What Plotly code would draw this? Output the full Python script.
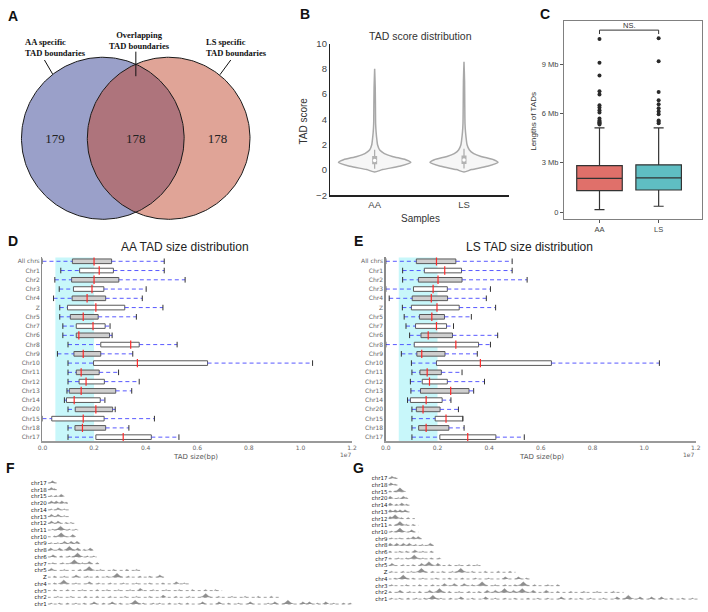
import numpy as np
import plotly.graph_objects as go

W, H = 708, 612

# ---------------- data ----------------
venn_counts = [179, 178, 178]          # AA-only, overlap, LS-only
venn_labels = ["AA specific<br>TAD boundaries", "Overlapping<br>TAD boundaries",
               "LS specific<br>TAD boundaries"]

violin_samples = ["AA", "LS"]
violin_levels_aa = [-0.16, 0.03, 0.29, 0.6, 0.81, 1.07, 1.3, 1.58, 2.0, 2.35, 3.0, 3.65, 5.0, 6.5, 8.0]
violin_width_aa = [0, .22, .68, 1, .86, .49, .27, .14, .08, .063, .04, .027, .022, .016, 0]
violin_levels_ls = [-0.16, 0.03, 0.29, 0.6, 0.81, 1.07, 1.3, 1.58, 2.0, 2.35, 3.0, 3.65, 5.0, 7.0, 8.57]
violin_width_ls = [0, .21, .64, .94, .82, .47, .27, .15, .085, .066, .042, .028, .022, .016, 0]
violin_q1 = [0.45, 0.47]
violin_median = [0.75, 0.78]
violin_q3 = [1.1, 1.14]
violin_low = [0.1, 0.12]
violin_high = [1.6, 1.68]

c_groups = ["AA", "LS"]
c_q1 = [1.31, 1.35]
c_median = [2.05, 2.09]
c_q3 = [2.83, 2.88]
c_low = [0.16, 0.36]
c_high = [5.13, 5.13]
c_out_aa = [5.33, 5.4, 5.45, 5.5, 5.57, 5.7, 6.06, 6.2, 6.36, 6.5, 7.16, 7.35, 8.31, 9.08, 10.53]
c_out_ls = [5.41, 5.5, 5.57, 5.96, 6.12, 6.32, 6.56, 6.8, 7.31, 9.18, 10.57]

chrom_labels = ["All chrs", "Chr1", "Chr2", "Chr3", "Chr4", "Z", "Chr5", "Chr7", "Chr6", "Chr8",
                "Chr9", "Chr10", "Chr11", "Chr12", "Chr13", "Chr14", "Chr20", "Chr15", "Chr18", "Chr17"]
# TAD sizes in units of 1e7 bp
d_wlo = [0.0, 0.071, 0.048, 0.065, 0.043, 0.067, 0.067, 0.079, 0.079, 0.099, 0.058, 0.099, 0.099, 0.099, 0.095, 0.085, 0.099, 0.0, 0.099, 0.099]
d_q1 = [0.116, 0.144, 0.113, 0.120, 0.115, 0.097, 0.108, 0.131, 0.131, 0.226, 0.122, 0.198, 0.131, 0.142, 0.104, 0.093, 0.127, 0.036, 0.126, 0.207]
d_med = [0.200, 0.220, 0.200, 0.192, 0.173, 0.207, 0.158, 0.196, 0.141, 0.342, 0.158, 0.368, 0.150, 0.169, 0.150, 0.123, 0.207, 0.158, 0.155, 0.313]
d_q3 = [0.268, 0.275, 0.296, 0.238, 0.245, 0.319, 0.216, 0.243, 0.260, 0.375, 0.226, 0.640, 0.220, 0.240, 0.284, 0.224, 0.272, 0.239, 0.245, 0.422]
d_whi = [0.472, 0.472, 0.553, 0.402, 0.387, 0.467, 0.364, 0.262, 0.270, 0.522, 0.350, 1.047, 0.295, 0.375, 0.346, 0.242, 0.282, 0.434, 0.335, 0.529]

e_wlo = [0.0, 0.065, 0.065, 0.0, 0.013, 0.064, 0.071, 0.078, 0.092, 0.0, 0.060, 0.099, 0.101, 0.095, 0.097, 0.084, 0.101, 0.101, 0.101, 0.101]
e_q1 = [0.118, 0.149, 0.126, 0.107, 0.102, 0.099, 0.130, 0.115, 0.136, 0.110, 0.120, 0.196, 0.132, 0.141, 0.134, 0.095, 0.118, 0.191, 0.127, 0.209]
e_med = [0.196, 0.228, 0.202, 0.183, 0.176, 0.198, 0.178, 0.196, 0.164, 0.271, 0.139, 0.366, 0.160, 0.169, 0.251, 0.156, 0.144, 0.233, 0.156, 0.317]
e_q3 = [0.271, 0.293, 0.295, 0.238, 0.239, 0.284, 0.227, 0.235, 0.258, 0.359, 0.229, 0.641, 0.215, 0.238, 0.322, 0.218, 0.210, 0.298, 0.244, 0.426]
e_whi = [0.489, 0.489, 0.547, 0.405, 0.389, 0.425, 0.331, 0.262, 0.433, 0.405, 0.354, 1.059, 0.295, 0.382, 0.340, 0.252, 0.281, 0.298, 0.303, 0.536]
size_ticks = [0.0, 0.2, 0.4, 0.6, 0.8, 1.0, 1.2]

karyo_chroms = ["chr17", "chr18", "chr15", "chr20", "chr14", "chr13", "chr12", "chr11", "chr10", "chr9",
                "chr8", "chr6", "chr7", "chr5", "Z", "chr4", "chr3", "chr2", "chr1"]
# chromosome lengths (Mb) and boundary-peak positions (Mb) / peak level (1 small, 2 medium, 3 large)
f_lengths = [6.6, 5.9, 10.8, 13.0, 14.0, 14.0, 17.2, 19.7, 18.3, 20.4, 29.5, 31.6, 34.6, 59.7, 75.2, 91.1, 112.7, 150.5, 197.7]
f_peak_mb = [
    [3.0], [2.3, 4.5], [2.3, 5.5, 8.7], [2.3, 5.5, 9.1, 11.9], [2.3, 6.6, 10.8], [2.3, 6.6, 10.8],
    [2.3, 6.6, 11.9, 15.1], [3.4, 8.3, 14.0, 18.3], [4.5, 8.7, 16.1], [2.3, 6.6, 10.8, 15.1, 18.9],
    [1.9, 7.6, 14.0, 19.3, 23.6, 27.4], [3.4, 8.7, 14.0, 19.3, 25.7, 29.9], [3.4, 9.8, 17.2, 22.5, 26.8, 32.1],
    [2.3, 10.8, 21.0, 26.8, 34.2, 42.7, 51.2, 57.5],
    [4.5, 10.8, 18.3, 25.7, 32.1, 38.4, 44.8, 52.2, 59.7, 66.0, 72.4],
    [4.5, 10.4, 18.3, 26.8, 33.1, 40.6, 49.0, 57.5, 66.0, 74.5, 83.0, 88.3],
    [4.5, 13.0, 22.5, 32.1, 38.4, 45.9, 53.3, 59.7, 68.2, 76.6, 85.1, 93.6, 102.1, 108.5],
    [6.6, 15.1, 24.6, 32.1, 40.6, 50.1, 57.5, 66.0, 74.5, 83.0, 91.5, 102.1, 110.6, 119.1, 127.6, 136.1, 144.6],
    [2.3, 7.6, 13.0, 18.3, 23.6, 29.9, 36.3, 41.6, 46.9, 56.5, 61.8, 68.2, 72.4, 78.8, 85.1, 90.4, 100.0,
     110.6, 117.0, 123.4, 130.8, 142.5, 146.7, 155.2, 164.8, 169.0, 174.3, 179.6, 184.9, 191.3, 195.5],
]
f_peak_level = [
    [2], [2, 1], [1, 1, 2], [2, 2, 2, 1], [1, 2, 1], [2, 2, 1], [2, 2, 1, 1], [1, 3, 1, 1], [1, 3, 2],
    [1, 1, 2, 2, 2], [2, 2, 3, 2, 1, 2], [2, 1, 1, 3, 1, 1], [1, 1, 3, 1, 2, 1], [2, 1, 1, 3, 1, 1, 1, 1],
    [1, 1, 2, 1, 1, 1, 3, 1, 1, 1, 2], [1, 3, 1, 2, 1, 1, 1, 1, 1, 1, 2, 1],
    [1, 1, 1, 1, 1, 1, 1, 2, 1, 1, 1, 1, 1, 1], [1, 1, 1, 1, 1, 1, 1, 1, 2, 1, 1, 3, 1, 1, 1, 1, 1],
    [1, 1, 1, 1, 1, 2, 1, 2, 1, 3, 1, 1, 1, 1, 1, 1, 2, 2, 1, 1, 2, 1, 2, 3, 2, 2, 1, 2, 1, 1, 1],
]
g_lengths = [6.7, 5.9, 10.5, 12.2, 13.6, 14.0, 16.8, 19.3, 19.3, 21.6, 28.9, 30.4, 34.2, 58.7, 81.0, 90.0, 110.5, 150.0, 198.0]
g_peak_mb = [
    [2.1, 4.2], [1.5, 4.2], [1.0, 4.2, 7.3], [1.0, 6.3, 9.4, 11.5], [1.0, 5.2, 8.4, 11.5], [1.0, 4.2, 7.3, 10.5],
    [1.0, 4.2, 8.4, 12.6], [1.0, 5.2, 7.3, 11.5, 15.7], [2.1, 7.3, 14.7], [2.1, 7.3, 12.6, 15.7, 18.9],
    [1.0, 5.2, 9.4, 13.2, 17.4, 21.6, 26.6], [1.0, 7.3, 11.5, 16.8, 22.0, 27.3],
    [1.0, 6.3, 11.5, 16.4, 22.0, 27.3, 32.5], [2.1, 9.4, 15.7, 21.0, 25.8, 31.4, 38.8, 45.1, 51.4, 56.6],
    [2.1, 9.4, 14.7, 21.0, 28.3, 34.6, 40.9, 46.1, 53.5, 61.8, 70.2, 77.6],
    [4.2, 9.4, 15.7, 22.0, 30.4, 38.8, 47.2, 55.6, 63.9, 74.4, 82.8, 88.1],
    [2.1, 11.5, 19.9, 28.3, 35.6, 41.9, 48.2, 53.5, 59.7, 68.1, 74.4, 80.7, 86.0, 93.3, 101.7, 108.0],
    [1.0, 7.3, 13.6, 19.9, 26.2, 32.5, 38.8, 45.1, 51.4, 57.7, 62.9, 68.1, 74.0, 79.7, 85.3, 92.2, 100.6,
     108.0, 116.4, 124.7, 133.1, 143.6],
    [2.1, 7.3, 12.6, 17.8, 23.1, 28.3, 33.5, 39.8, 46.1, 53.5, 61.8, 68.2, 74.4, 80.7, 89.1, 95.4, 101.7,
     110.1, 116.4, 122.6, 128.9, 137.3, 145.7, 153.0, 160.4, 167.7, 174.0, 180.3, 187.7, 194.0],
]
g_peak_level = [
    [2, 1], [2, 1], [1, 1, 3], [2, 1, 2, 1], [2, 1, 2, 1], [2, 2, 2, 2], [2, 3, 1, 1], [1, 1, 3, 1, 1], [1, 3, 2],
    [1, 1, 1, 2, 2], [2, 2, 2, 2, 1, 1, 2], [1, 1, 1, 2, 1, 1], [1, 1, 1, 3, 1, 1, 1],
    [2, 1, 1, 2, 3, 2, 1, 1, 1, 1], [1, 1, 1, 3, 1, 1, 1, 3, 1, 1, 1, 1], [1, 3, 1, 1, 1, 1, 1, 1, 1, 2, 2, 1],
    [1, 1, 1, 1, 2, 2, 2, 1, 3, 1, 1, 1, 3, 1, 1, 1],
    [1, 2, 1, 1, 2, 3, 1, 1, 1, 1, 2, 2, 3, 2, 3, 2, 2, 1, 1, 1, 1, 1],
    [1, 1, 1, 1, 1, 3, 1, 1, 2, 1, 2, 1, 1, 1, 1, 1, 1, 2, 1, 1, 1, 1, 2, 3, 2, 2, 2, 1, 1, 1],
]


# ---------------- helpers ----------------
def dx(a, b):
    return [a / W, b / W]


def dy(top, bottom):
    return [1 - bottom / H, 1 - top / H]


SANS = "Liberation Sans, Arial, sans-serif"
SERIF = "Liberation Serif, Times New Roman, serif"
DJ = "DejaVu Sans, sans-serif"

fig = go.Figure()
annotations = []
shapes = []


def note(text, x, y, size, family=SANS, color="#222", xanchor="center", yanchor="middle",
         angle=0, xref="paper", yref="paper", align="center"):
    if xref == "paper":
        x = x / W
    if yref == "paper":
        y = 1 - y / H
    annotations.append(dict(text=text, x=x, y=y, xref=xref, yref=yref, showarrow=False,
                            font=dict(size=size, family=family, color=color),
                            xanchor=xanchor, yanchor=yanchor, textangle=angle, align=align))


# ---------------- Panel A: Venn ----------------
R = 82.5
cl = (99.2, 134.7)
cr = (166.0, 134.7)
t = np.linspace(0, 2 * np.pi, 241)
xi = (cl[0] + cr[0]) / 2
half = np.arccos((xi - cl[0]) / R)
a1 = np.linspace(-half, half, 90)
a2 = np.linspace(np.pi - half, np.pi + half, 90)
lens_x = np.concatenate([cl[0] + R * np.cos(a1), cr[0] + R * np.cos(a2)])
lens_y = np.concatenate([cl[1] + R * np.sin(a1), cr[1] + R * np.sin(a2)])
for (cx, cy), col in [(cl, "#9aa0c9"), (cr, "#e0a497")]:
    fig.add_trace(go.Scatter(x=cx + R * np.cos(t), y=cy + R * np.sin(t), fill="toself", fillcolor=col,
                             mode="lines", line=dict(width=0), xaxis="x", yaxis="y", hoverinfo="skip"))
fig.add_trace(go.Scatter(x=lens_x, y=lens_y, fill="toself", fillcolor="#ae747c", mode="lines",
                         line=dict(width=0), xaxis="x", yaxis="y", hoverinfo="skip"))
for (cx, cy) in [cl, cr]:
    fig.add_trace(go.Scatter(x=cx + R * np.cos(t), y=cy + R * np.sin(t), mode="lines",
                             line=dict(color="#1a1a1a", width=1), xaxis="x", yaxis="y", hoverinfo="skip"))
fig.add_trace(go.Scatter(x=[50.7, 132.7, 215.5], y=[136, 136, 136], mode="text",
                         text=[str(v) for v in venn_counts],
                         textfont=dict(family=SERIF, size=13, color="#222"), xaxis="x", yaxis="y"))
for (x0, y0, x1, y1) in [(40, 55, 48.3, 69.3), (132.7, 46.5, 132.7, 71.5), (229, 55, 218, 70)]:
    shapes.append(dict(type="line", x0=x0, y0=y0, x1=x1, y1=y1, xref="x", yref="y",
                       line=dict(color="#111", width=1)))
note("<b>" + venn_labels[0] + "</b>", 18, 42, 8.5, SERIF, "#111", xanchor="left", align="left")
note("<b>" + venn_labels[1] + "</b>", 136, 35, 8.5, SERIF, "#111")
note("<b>" + venn_labels[2] + "</b>", 202, 42, 8.5, SERIF, "#111", xanchor="left", align="left")

# ---------------- Panel B: violins ----------------
VMAX = 0.405
for i, (lev, wid) in enumerate([(violin_levels_aa, violin_width_aa), (violin_levels_ls, violin_width_ls)]):
    w = np.array(wid) * VMAX
    vx = np.concatenate([i + w, (i - w)[::-1]])
    vy = np.concatenate([lev, lev[::-1]])
    fig.add_trace(go.Scatter(x=vx, y=vy, fill="toself", fillcolor="#f6f6f6", mode="lines",
                             line=dict(color="#a8a8a8", width=1.5, shape="spline", smoothing=0.7),
                             xaxis="x2", yaxis="y2", hoverinfo="skip"))
    fig.add_trace(go.Scatter(x=[i, i], y=[violin_low[i], violin_high[i]], mode="lines",
                             line=dict(color="#aaaaaa", width=1.2), xaxis="x2", yaxis="y2"))
    fig.add_trace(go.Scatter(x=[i, i], y=[violin_q1[i], violin_q3[i]], mode="lines",
                             line=dict(color="#b2b2b2", width=5), xaxis="x2", yaxis="y2"))
    fig.add_trace(go.Scatter(x=[i], y=[violin_median[i]], mode="markers",
                             marker=dict(color="white", size=3.5), xaxis="x2", yaxis="y2"))
note("TAD score distribution", 421, 31, 10.5, SANS, "#333")
note("Samples", 421, 216, 10, SANS, "#333")
note("TAD score", 303, 117, 10, SANS, "#333", angle=-90)

# ---------------- Panel C: boxplot ----------------
c_cols = ["#e0706a", "#5fbec3"]
c_outs = [c_out_aa, c_out_ls]
for i in range(2):
    fig.add_trace(go.Box(x=[i], q1=[c_q1[i]], median=[c_median[i]], q3=[c_q3[i]],
                         lowerfence=[c_low[i]], upperfence=[c_high[i]], width=0.77, whiskerwidth=0.22,
                         fillcolor=c_cols[i], line=dict(color="#333", width=1.2), boxpoints=False,
                         xaxis="x3", yaxis="y3", name=c_groups[i]))
    fig.add_trace(go.Scatter(x=[i] * len(c_outs[i]), y=c_outs[i], mode="markers",
                             marker=dict(color="#2a2a2a", size=4), xaxis="x3", yaxis="y3"))
fig.add_trace(go.Scatter(x=[0, 0, 1, 1], y=[10.83, 11.07, 11.07, 10.83], mode="lines",
                         line=dict(color="#333", width=1), xaxis="x3", yaxis="y3"))
note("NS.", 0.5, 11.38, 7.5, SANS, "#333", xref="x3", yref="y3")
note("Lengths of TADs", 536.5, 117, 8, SANS, "#333", angle=-90)


# ---------------- Panels D/E: TAD size distributions ----------------
def size_panel(xa, ya, wlo, q1, med, q3, whi):
    idx = list(range(len(chrom_labels)))
    fills = ["#cfcfcf" if i % 2 == 0 else "#ffffff" for i in idx]
    fig.add_trace(go.Bar(orientation="h", y=idx, x=[b - a for a, b in zip(q1, q3)], base=q1, width=0.5,
                         marker=dict(color=fills, line=dict(color="#5a5a5a", width=1)),
                         xaxis=xa, yaxis=ya))
    wx, wy = [], []
    for i in idx:
        wx += [wlo[i], q1[i], None, q3[i], whi[i], None]
        wy += [i, i, None, i, i, None]
    fig.add_trace(go.Scatter(x=wx, y=wy, mode="lines",
                             line=dict(color="rgba(60,60,255,0.85)", width=1, dash="4px,3px"),
                             xaxis=xa, yaxis=ya))
    fig.add_trace(go.Scatter(x=list(wlo) + list(whi), y=idx + idx, mode="markers",
                             marker=dict(symbol="line-ns-open", size=4, color="#333",
                                         line=dict(color="#333", width=1)),
                             xaxis=xa, yaxis=ya))
    fig.add_trace(go.Scatter(x=med, y=idx, mode="markers",
                             marker=dict(symbol="line-ns-open", size=6, color="#ff2a2a",
                                         line=dict(color="#ff2a2a", width=1.2)),
                             xaxis=xa, yaxis=ya))
    shapes.append(dict(type="rect", xref=xa, yref=ya + " domain", x0=0.05, x1=0.2, y0=0, y1=1,
                       fillcolor="#c8f7fa", line=dict(width=0), layer="below"))


size_panel("x4", "y4", d_wlo, d_q1, d_med, d_q3, d_whi)
size_panel("x5", "y5", e_wlo, e_q1, e_med, e_q3, e_whi)
note("AA TAD size distribution", 182.5, 245, 12, SANS, "#222")
note("LS TAD size distribution", 532, 245, 12, SANS, "#222")
note("TAD size(bp)", 193, 459, 7, DJ, "#555")
note("TAD size(bp)", 544, 459, 7, DJ, "#555")
note("1e7", 346, 457, 6, DJ, "#666")
note("1e7", 694, 457, 6, DJ, "#666")

# ---------------- Panels F/G: boundary profiles ----------------
PEAK_H = {1: 0.16, 2: 0.33, 3: 0.58}
PEAK_W = {1: 1.2, 2: 2.2, 3: 3.9}


def karyo_panel(xa, ya, lengths, peaks, levels):
    bx, by, px_, py_ = [], [], [], []
    for i, (L, ps, ls) in enumerate(zip(lengths, peaks, levels)):
        base = -i
        bx += [0, L, None]
        by += [base, base, None]
        for p, lv in zip(ps, ls):
            w, h = PEAK_W[lv], PEAK_H[lv]
            px_ += [p - w, p - 0.5 * w, p, p + 0.5 * w, p + w, None]
            py_ += [base, base + 0.3 * h, base + h, base + 0.3 * h, base, None]
    fig.add_trace(go.Scatter(x=bx, y=by, mode="lines", line=dict(color="#a0a0a0", width=1, dash="dot"),
                             xaxis=xa, yaxis=ya))
    fig.add_trace(go.Scatter(x=px_, y=py_, mode="lines", fill="toself", fillcolor="#8e8e8e",
                             line=dict(width=0.3, color="#8e8e8e"), xaxis=xa, yaxis=ya))


karyo_panel("x6", "y6", f_lengths, f_peak_mb, f_peak_level)
karyo_panel("x7", "y7", g_lengths, g_peak_mb, g_peak_level)

# panel letters
for letter, x, y in [("A", 8, 10), ("B", 304, 8), ("C", 548, 8), ("D", 8, 239), ("E", 359, 239),
                     ("F", 6, 470), ("G", 359, 470)]:
    note("<b>" + letter + "</b>", x, y, 14, SANS, "#111")

# ---------------- axes ----------------
blank = dict(visible=False, showgrid=False, zeroline=False, fixedrange=True)
layout_axes = dict(
    xaxis=dict(blank, domain=dx(0, 300), range=[0, 300], anchor="y"),
    yaxis=dict(blank, domain=dy(0, 220), range=[220, 0], anchor="x"),
    xaxis2=dict(domain=dx(330, 511.7), range=[-0.496, 1.509], anchor="y2", tickvals=[0, 1],
                ticktext=violin_samples, showline=True, linecolor="#222", linewidth=1.5, ticks="",
                showgrid=False, zeroline=False, tickfont=dict(size=9.5, family=SANS, color="#444")),
    yaxis2=dict(domain=dy(38.3, 192.7), range=[-2, 10], anchor="x2", tickvals=[-2, 0, 2, 4, 6, 8, 10],
                showline=True, linecolor="#222", linewidth=1.5, ticks="", showgrid=False, zeroline=False,
                tickfont=dict(size=9.5, family=SANS, color="#444")),
    xaxis3=dict(domain=dx(567, 707), range=[-0.6, 1.733], anchor="y3", tickvals=[0, 1], ticktext=c_groups,
                showline=True, mirror=True, linecolor="#808080", linewidth=1, ticks="outside", ticklen=3,
                tickcolor="#555", showgrid=False, zeroline=False,
                tickfont=dict(size=7.5, family=SANS, color="#444")),
    yaxis3=dict(domain=dy(15, 217), range=[-0.42, 11.64], anchor="x3", tickvals=[0, 3, 6, 9],
                ticktext=["0", "3 Mb", "6 Mb", "9 Mb"], showline=True, mirror=True, linecolor="#808080",
                linewidth=1, ticks="outside", ticklen=3, tickcolor="#555", showgrid=False, zeroline=False,
                tickfont=dict(size=7.5, family=SANS, color="#444")),
)
for n, (x0, x1) in [(4, (38, 352)), (5, (386.3, 700.7))]:
    layout_axes["xaxis%d" % n] = dict(domain=dx(x0, x1), range=[0, 1.2], anchor="y%d" % n,
                                      tickvals=size_ticks, ticktext=["%.1f" % v for v in size_ticks],
                                      showline=True, linecolor="#9a9a9a", linewidth=1.5, ticks="",
                                      showgrid=False, zeroline=False,
                                      tickfont=dict(size=6, family=DJ, color="#666"))
    layout_axes["yaxis%d" % n] = dict(domain=dy(256, 443), range=[19.42, -0.42], anchor="x%d" % n,
                                      tickvals=list(range(len(chrom_labels))), ticktext=chrom_labels,
                                      showline=True, linecolor="#8a8a8a", linewidth=1.5, ticks="",
                                      showgrid=False, zeroline=False,
                                      tickfont=dict(size=6, family=DJ, color="#666"))
for n, (x0, x1), (t0, t1), (r0, r1) in [(6, (43.3, 354), (480, 612), (-18.44, 0.83)),
                                         (7, (389, 708), (470, 612), (-19.18, 1.61))]:
    layout_axes["xaxis%d" % n] = dict(blank, domain=dx(x0, x1),
                                      range=[0, (x1 - x0) / (1.57 if n == 6 else 1.59)], anchor="y%d" % n)
    layout_axes["yaxis%d" % n] = dict(domain=dy(t0, t1), range=[r0, r1], anchor="x%d" % n,
                                      tickvals=[-i for i in range(len(karyo_chroms))], ticktext=karyo_chroms,
                                      showline=False, ticks="", showgrid=False, zeroline=False,
                                      tickfont=dict(size=5.5, family=DJ, color="#222"))

fig.update_layout(width=W, height=H, margin=dict(l=0, r=0, t=0, b=0, pad=0), showlegend=False,
                  paper_bgcolor="white", plot_bgcolor="white", annotations=annotations, shapes=shapes,
                  hovermode=False, **layout_axes)
fig.write_html("out.html", config={"displayModeBar": False, "staticPlot": True},
               post_script="document.body.style.margin='0';document.body.style.overflow='hidden';")
